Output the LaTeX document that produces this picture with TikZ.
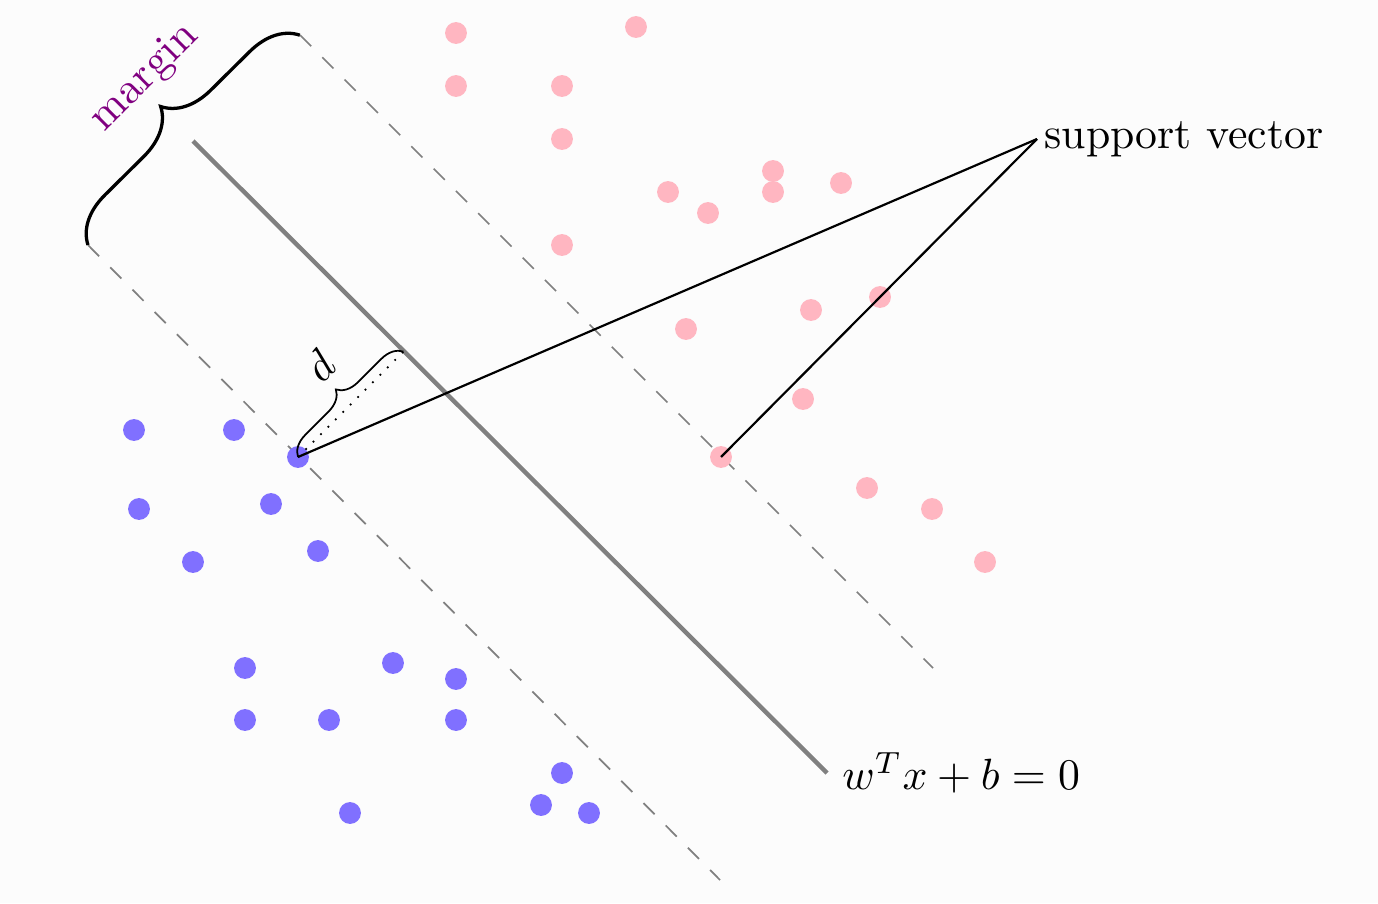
\documentclass[tikz,border=0pt]{standalone}
\usepackage{amsmath,amssymb}
\usepackage{tikz}
\usetikzlibrary{decorations.pathreplacing}
\usepackage{xcolor}
\definecolor{negblue}{RGB}{128,112,255}
\definecolor{pospink}{RGB}{255,182,193}
\definecolor{marginpurple}{RGB}{128,0,128}
\definecolor{bgcol}{RGB}{252,252,252}
\tikzstyle{svm}=[
  x=0.2286pt,y=-0.2286pt,font=\normalsize
]
\tikzstyle{pospt}=[
  circle,fill=pospink,inner sep=0pt,minimum size=5pt
]
\tikzstyle{negpt}=[
  circle,fill=negblue,inner sep=0pt,minimum size=5pt
]
\tikzstyle{hyperplane}=[
  gray,line width=1pt
]
\tikzstyle{marginline}=[
  gray,line width=0.4pt,dash pattern=on 3.6pt off 3.6pt
]
\tikzstyle{marginbrace}=[
  decorate,decoration={brace,amplitude=10.8pt},line width=0.75pt
]
\tikzstyle{distbrace}=[
  decorate,decoration={brace,amplitude=4.8pt},line width=0.4pt
]
\tikzstyle{pointer}=[
  line width=0.5pt
]

\begin{document}
\begin{tikzpicture}[svm]

    \fill[bgcol] (0,0) rectangle (1378,903);
    \useasboundingbox (0,0) rectangle (1378,903);

    \coordinate (hp1) at (193,141);
    \coordinate (hp2) at (827,773);
    \coordinate (up1) at (300,35);
    \coordinate (up2) at (933,668);
    \coordinate (lo1) at (88,245);
    \coordinate (lo2) at (720,880);
    \coordinate (foot) at (403.5,351.5);

    \draw [hyperplane] (hp1) -- (hp2);
    \node (eq) at (hp2) [right] {$w^Tx+b=0$};
    \draw [marginline] (up1) -- (up2);
    \draw [marginline] (lo1) -- (lo2);

    \foreach \x/\y [count=\i] in {456/33,636/27,456/86,562/86,562/139,668/192,
        708/213,773/171,773/192,841/183,562/245,880/297,811/310,686/329,
        803/399,867/488,932/509,985/562}
      \node (p\i) at (\x,\y) [pospt] {};
    \foreach \x/\y [count=\i] in {134/430,234/430,139/509,271/504,193/562,
        318/551,245/668,393/663,456/679,245/720,329/720,456/720,562/773,
        541/805,589/813,350/813}
      \node (n\i) at (\x,\y) [negpt] {};

    \node (svpos) at (721,457) [pospt] {};
    \node (svneg) at (298,457) [negpt] {};

    \draw [marginbrace] (lo1) -- (up1);
    \node (mlabel) at (145,78) [rotate=45,text=marginpurple] {margin};

    \draw [dotted] (svneg.center) -- (foot);
    \draw [distbrace] (svneg.center) -- (foot);
    \node (dlabel) at (320,366) [rotate=45] {$d$};

    \node (sv) at (1037,139) [anchor=west,inner sep=1.5pt] {support vector};
    \draw [pointer] (sv.west) -- (svneg.center);
    \draw [pointer] (sv.west) -- (svpos.center);

  \end{tikzpicture}
\end{document}
